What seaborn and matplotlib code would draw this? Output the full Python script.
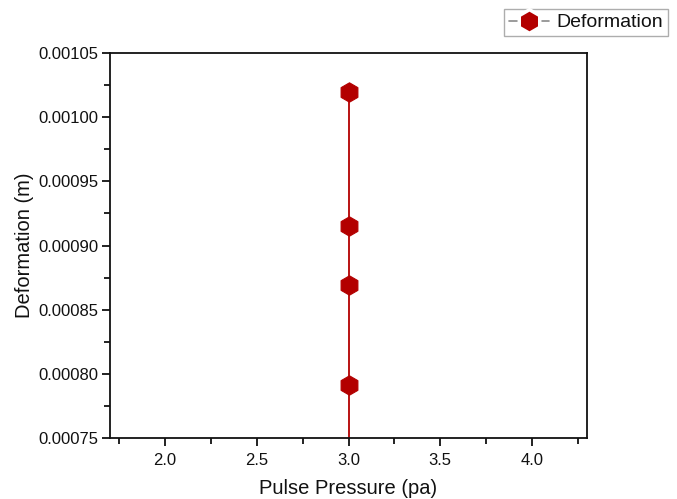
import matplotlib
matplotlib.use("Agg")
import matplotlib.pyplot as plt
from matplotlib.lines import Line2D
import seaborn as sns
import pandas as pd
from matplotlib.ticker import MultipleLocator, FormatStrFormatter

pressure = [3.0, 3.0, 3.0, 3.0, 3.0]
deformation = [0.001020, 0.000915, 0.000869, 0.000791, 0.000740]

df = pd.DataFrame({"Pulse Pressure (pa)": pressure, "Deformation (m)": deformation})

sns.set_style("white")
plt.rcParams["font.family"] = ["Liberation Sans", "DejaVu Sans"]

fig = plt.figure(figsize=(6.77, 4.99), dpi=100)
ax = fig.add_axes([110 / 677, 1 - 438 / 499, 477 / 677, 385 / 499])

red = "#b30000"
ink = "#111111"
sns.lineplot(data=df, x="Pulse Pressure (pa)", y="Deformation (m)", ax=ax,
             estimator=None, sort=False, color=red, marker="h", markersize=14,
             markeredgecolor=red, linewidth=1.3, legend=False)

ax.set_xlim(1.7, 4.3)
ax.set_ylim(0.00075, 0.00105)
ax.xaxis.set_major_locator(MultipleLocator(0.5))
ax.xaxis.set_minor_locator(MultipleLocator(0.25))
ax.yaxis.set_major_locator(MultipleLocator(0.00005))
ax.yaxis.set_minor_locator(MultipleLocator(0.000025))
ax.xaxis.set_major_formatter(FormatStrFormatter("%.1f"))
ax.yaxis.set_major_formatter(FormatStrFormatter("%.5f"))

for s in ax.spines.values():
    s.set_color(ink)
    s.set_linewidth(1.3)
ax.tick_params(which="both", direction="out", color=ink, width=1.3,
               bottom=True, left=True, top=False, right=False,
               labelcolor=ink)
ax.tick_params(which="major", length=6, labelsize=12)
ax.tick_params(axis="y", which="major", pad=2.5)
ax.tick_params(axis="x", which="major", pad=5)
ax.tick_params(which="minor", length=4)

ax.set_xlabel("Pulse Pressure (pa)", fontsize=14.5, labelpad=8, color=ink)
ax.set_ylabel("Deformation (m)", fontsize=14.5, labelpad=3, color=ink)

# legend entry: grey line broken by a white ring around the marker
handle = Line2D([], [], color="#8a8a8a", linewidth=1.2, marker="h",
                markersize=17, markerfacecolor=red, markeredgecolor="white",
                markeredgewidth=2.5)
leg = ax.legend([handle], ["Deformation"], loc="upper right",
                bbox_to_anchor=(668 / 677, 1 - 9 / 499),
                bbox_transform=fig.transFigure, fancybox=False, frameon=True,
                fontsize=14, handlelength=2.05, handletextpad=0.4,
                borderpad=0.25, borderaxespad=0)
leg.get_frame().set_edgecolor("#999999")
leg.get_frame().set_linewidth(1.0)
for t in leg.get_texts():
    t.set_color(ink)

fig.savefig("out.png", dpi=100)
